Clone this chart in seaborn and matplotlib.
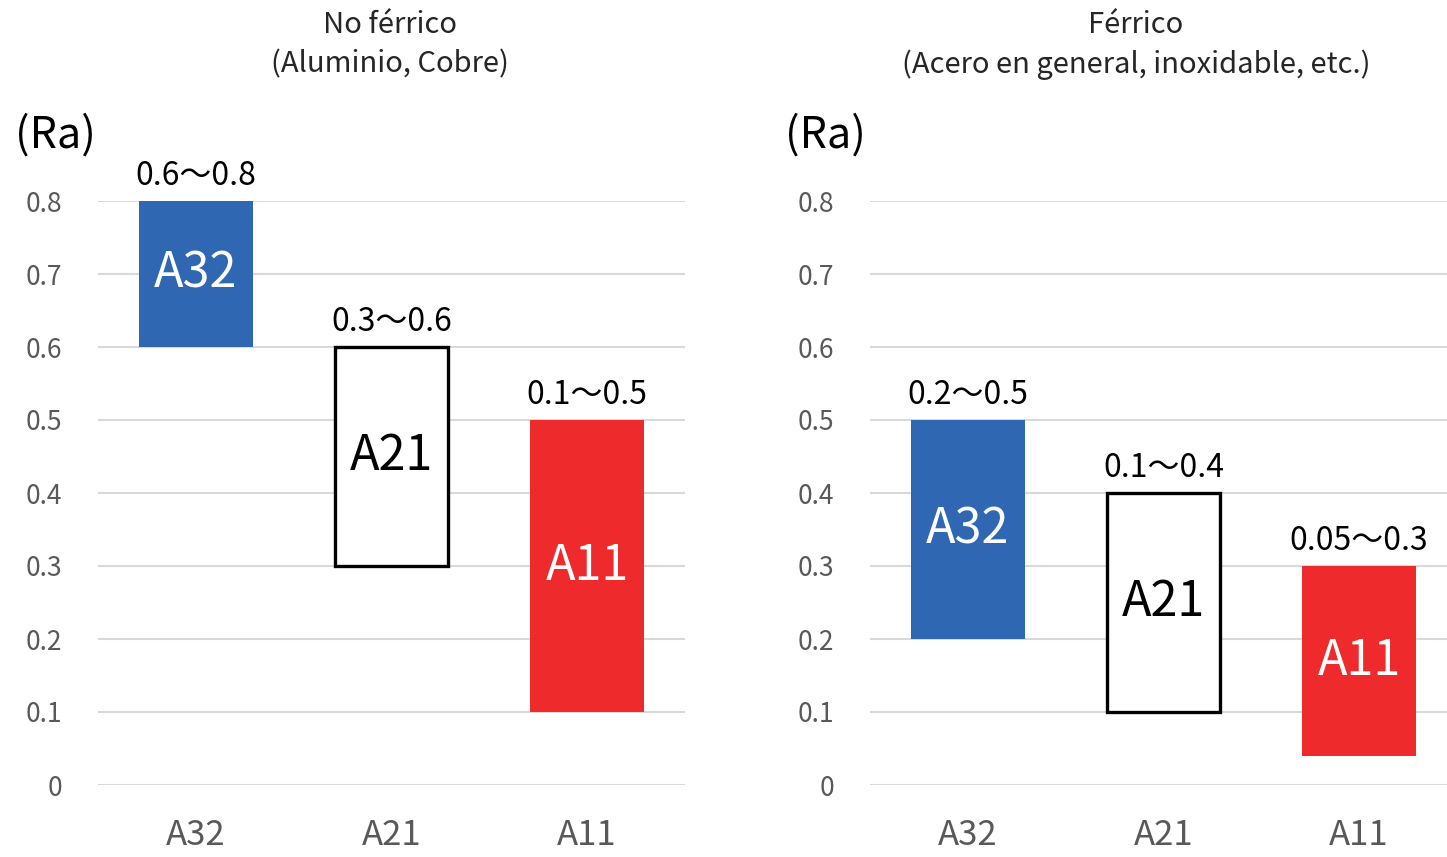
import seaborn as sns
import matplotlib.pyplot as plt
import pandas as pd

# grades and Ra ranges
grades = ["A32", "A21", "A11"]
nf_low = [0.6, 0.3, 0.1]
nf_high = [0.8, 0.6, 0.5]
nf_text = ["0.6〜0.8", "0.3〜0.6", "0.1〜0.5"]
fe_low = [0.2, 0.1, 0.04]
fe_high = [0.5, 0.4, 0.3]
fe_text = ["0.2〜0.5", "0.1〜0.4", "0.05〜0.3"]
yticks = [0, 0.1, 0.2, 0.3, 0.4, 0.5, 0.6, 0.7, 0.8]

titles = ["No férrico\n(Aluminio, Cobre)",
          "Férrico\n(Acero en general, inoxidable, etc.)"]

fill = {"A32": "#2F67B2", "A21": "white", "A11": "#EE2A2D"}
edge = {"A32": "#2F67B2", "A21": "black", "A11": "#EE2A2D"}
inner_color = {"A32": "white", "A21": "black", "A11": "white"}

sns.set_style("white")
plt.rcParams["font.family"] = ["Noto Sans CJK JP", "DejaVu Sans"]

fig = plt.figure(figsize=(14.47, 8.57), dpi=100)
ax_l = fig.add_axes([98 / 1447, 1 - 785 / 857, 587 / 1447, 584 / 857])
ax_r = fig.add_axes([870 / 1447, 1 - 785 / 857, 587 / 1447, 584 / 857])


def draw_panel(ax, low, high, text):
    df = pd.DataFrame({"grade": grades, "low": low, "high": high})
    df["span"] = df["high"] - df["low"]
    sns.barplot(data=df, x="grade", y="span", order=grades, ax=ax,
                width=0.58, color="grey", errorbar=None)
    # move each bar so it spans low..high
    for patch, g, lo, hi in zip(ax.patches, grades, low, high):
        patch.set_y(lo)
        patch.set_height(hi - lo)
        patch.set_facecolor(fill[g])
        patch.set_edgecolor(edge[g])
        patch.set_linewidth(2.4 if g == "A21" else 0)
        patch.set_zorder(3)
        cx = patch.get_x() + patch.get_width() / 2
        ax.text(cx, hi + 0.012, text[grades.index(g)], ha="center", va="bottom",
                fontsize=23, color="black", zorder=4)
        ax.text(cx, (lo + hi) / 2, g, ha="center", va="center",
                fontsize=35, color=inner_color[g], zorder=4)

    ax.set_ylim(0, 0.8)
    ax.set_xlim(-0.5, 2.5)
    ax.set_yticks(yticks)
    ax.set_yticklabels([f"{v:g}" for v in yticks])
    ax.grid(axis="y", color="#D9D9D9", linewidth=1.5, zorder=0)
    ax.set_axisbelow(True)
    for s in ax.spines.values():
        s.set_visible(False)
    ax.tick_params(axis="y", length=0, pad=26, labelsize=19, labelcolor="#595959")
    ax.tick_params(axis="x", length=0, pad=24, labelsize=25, labelcolor="#595959")
    ax.set_xlabel("")
    ax.set_ylabel("")


draw_panel(ax_l, nf_low, nf_high, nf_text)
draw_panel(ax_r, fe_low, fe_high, fe_text)

for xpos in (55, 825):
    fig.text(xpos / 1447, 1 - 136 / 857, "(Ra)", ha="center", va="center",
             fontsize=31, color="black")

fig.text(390 / 1447, 1 - 45 / 857, titles[0], ha="center", va="center",
         fontsize=21, linespacing=1.4)
fig.text(1136 / 1447, 1 - 45 / 857, titles[1], ha="center", va="center",
         fontsize=21, linespacing=1.4)

fig.savefig("out.png", dpi=100)
